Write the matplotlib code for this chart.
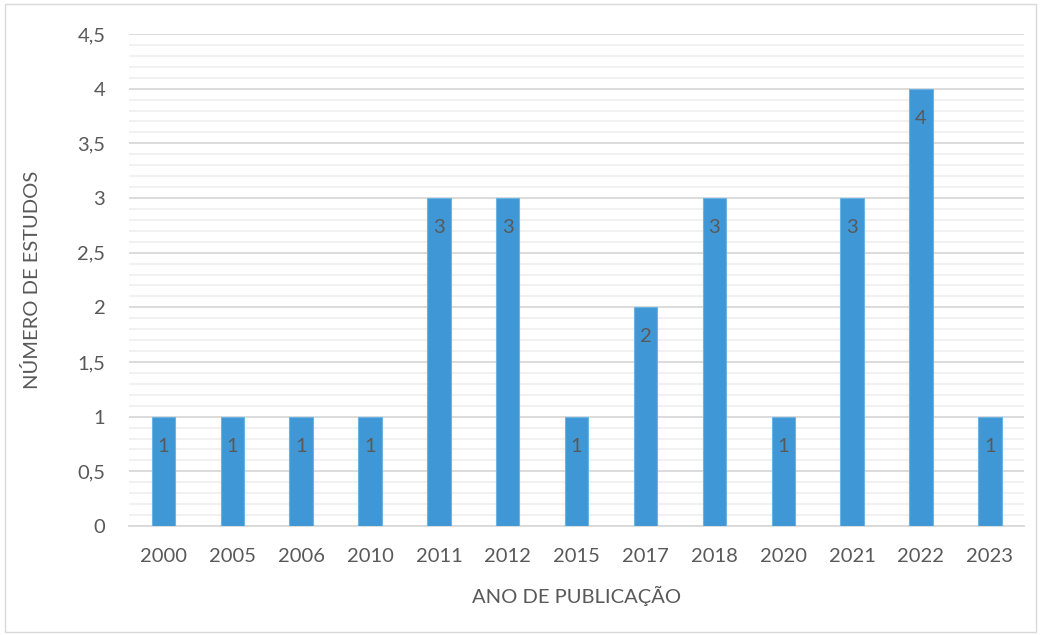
import numpy as np
import matplotlib.pyplot as plt
from matplotlib.ticker import MultipleLocator, FuncFormatter

anos = ['2000', '2005', '2006', '2010', '2011', '2012', '2015', '2017', '2018', '2020', '2021', '2022', '2023']
estudos = [1, 1, 1, 1, 3, 3, 1, 2, 3, 1, 3, 4, 1]

plt.rcParams['font.family'] = ['Lato', 'DejaVu Sans']
cinza = '#595959'
fs = 14.5

fig = plt.figure(figsize=(10.41, 6.35), dpi=100)
ax = fig.add_axes([0.1239, 0.1717, 0.86, 0.7748])

# borda do grafico
fig.patches.append(plt.Rectangle((0.005, 0.004), 0.99, 0.99, transform=fig.transFigure,
                                 fill=False, edgecolor='#D9D9D9', linewidth=1))

x = np.arange(len(anos))
bars = ax.bar(x, estudos, width=0.34, color='#3F98D5', edgecolor='#6BB3E3', linewidth=0.8, zorder=3)

for xi, v in zip(x, estudos):
    ax.text(xi, v - 0.27, str(v), ha='center', va='center', fontsize=fs, color=cinza, zorder=4)

ax.set_xlim(-0.5, len(anos) - 0.5)
ax.set_ylim(0, 4.5)
ax.yaxis.set_major_locator(MultipleLocator(0.5))
ax.yaxis.set_minor_locator(MultipleLocator(0.1))
ax.yaxis.set_major_formatter(FuncFormatter(lambda v, p: ('%g' % v).replace('.', ',')))
ax.grid(axis='y', which='major', color='#D9D9D9', linewidth=1.3, zorder=0)
ax.grid(axis='y', which='minor', color='#F0F0F0', linewidth=1.3, zorder=0)

ax.set_xticks(x)
ax.set_xticklabels(anos)
ax.tick_params(axis='both', which='both', length=0, labelsize=fs, labelcolor=cinza)
ax.tick_params(axis='x', pad=16)
ax.tick_params(axis='y', pad=17)
for s in ['top', 'right', 'left']:
    ax.spines[s].set_visible(False)
ax.spines['bottom'].set_color('#D9D9D9')
ax.spines['bottom'].set_linewidth(1.3)

ax.set_xlabel('ANO DE PUBLICAÇÃO', fontsize=fs, color=cinza, labelpad=15)
ax.set_ylabel('NÚMERO DE ESTUDOS', fontsize=fs, color=cinza, labelpad=26)

fig.savefig('out.png', dpi=100)
